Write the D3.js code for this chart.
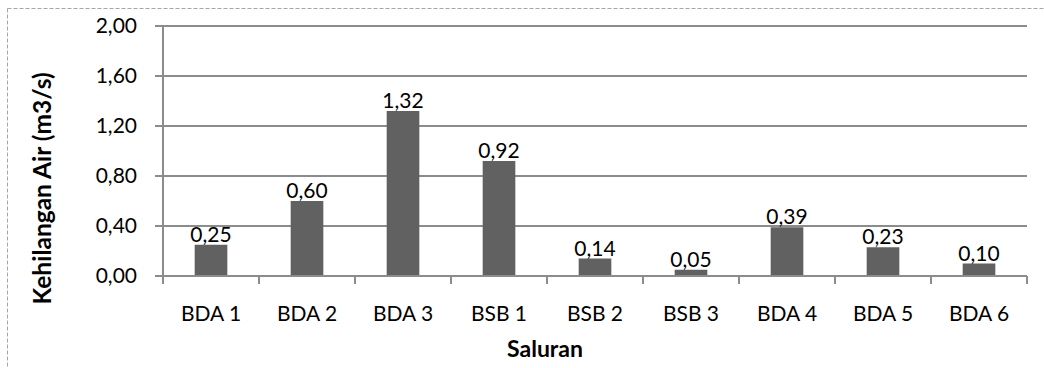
<!DOCTYPE html>
<html>
<head>
<meta charset="utf-8">
<script src="https://cdn.jsdelivr.net/npm/d3@7"></script>
<style>
  html, body { margin: 0; padding: 0; background: #fff; }
  svg { display: block; font-family: Lato, "Open Sans", sans-serif; }
</style>
</head>
<body>
<svg id="chart" width="1044" height="368"></svg>
<script>
// Water loss per channel
const categories = ["BDA 1", "BDA 2", "BDA 3", "BSB 1", "BSB 2", "BSB 3", "BDA 4", "BDA 5", "BDA 6"];
const values = [0.25, 0.60, 1.32, 0.92, 0.14, 0.05, 0.39, 0.23, 0.10];
const yTicks = [0, 0.4, 0.8, 1.2, 1.6, 2.0];
const yTitle = "Kehilangan Air (m3/s)";
const xTitle = "Saluran";

const svg = d3.select("#chart");
const plot = { left: 163, right: 1027, top: 26, bottom: 276 };

const fmt = v => v.toFixed(2).replace(".", ",");

// outer chart frame
svg.append("rect")
  .attr("x", 7.5).attr("y", 8.5)
  .attr("width", 1045).attr("height", 370)
  .attr("fill", "none")
  .attr("stroke", "#a6a6a6")
  .attr("stroke-width", 1)
  .attr("stroke-dasharray", "4 2");

const x = d3.scaleBand().domain(categories).range([plot.left, plot.right]).paddingInner(0.66).paddingOuter(0.33);
const xOuter = d3.scaleBand().domain(categories).range([plot.left, plot.right]);
const y = d3.scaleLinear().domain([0, 2]).range([plot.bottom, plot.top]);

const gridColor = "#8c8c8c";

// horizontal gridlines with outward ticks
svg.append("g")
  .selectAll("line")
  .data(yTicks)
  .join("line")
  .attr("x1", plot.left - 8).attr("x2", plot.right)
  .attr("y1", d => y(d)).attr("y2", d => y(d))
  .attr("stroke", gridColor).attr("stroke-width", 2);

// y axis line
svg.append("line")
  .attr("x1", plot.left).attr("x2", plot.left)
  .attr("y1", plot.top).attr("y2", plot.bottom)
  .attr("stroke", gridColor).attr("stroke-width", 2);

// y tick labels
svg.append("g")
  .selectAll("text")
  .data(yTicks)
  .join("text")
  .attr("x", 137).attr("y", d => y(d))
  .attr("dy", "0.35em")
  .attr("text-anchor", "end")
  .attr("font-size", 21)
  .attr("fill", "#000")
  .text(fmt);

// category boundary ticks on x axis
const bounds = categories.map(c => xOuter(c)).concat([plot.right]);
svg.append("g")
  .selectAll("line")
  .data(bounds)
  .join("line")
  .attr("x1", d => d).attr("x2", d => d)
  .attr("y1", plot.bottom).attr("y2", plot.bottom + 8)
  .attr("stroke", gridColor).attr("stroke-width", 2);

// bars
svg.append("g")
  .selectAll("rect")
  .data(values)
  .join("rect")
  .attr("x", (d, i) => x(categories[i]))
  .attr("width", x.bandwidth())
  .attr("y", d => y(d))
  .attr("height", d => y(0) - y(d))
  .attr("fill", "#616161");

// redraw baseline above bars
svg.append("line")
  .attr("x1", plot.left - 8).attr("x2", plot.right)
  .attr("y1", y(0)).attr("y2", y(0))
  .attr("stroke", gridColor).attr("stroke-width", 2);

// value labels
svg.append("g")
  .selectAll("text")
  .data(values)
  .join("text")
  .attr("x", (d, i) => x(categories[i]) + x.bandwidth() / 2)
  .attr("y", d => y(d) - 3)
  .attr("text-anchor", "middle")
  .attr("font-size", 21)
  .attr("fill", "#000")
  .text(fmt);

// category labels
svg.append("g")
  .selectAll("text")
  .data(categories)
  .join("text")
  .attr("x", d => xOuter(d) + xOuter.bandwidth() / 2)
  .attr("y", 321)
  .attr("text-anchor", "middle")
  .attr("font-size", 21)
  .attr("fill", "#000")
  .text(d => d);

// axis titles
svg.append("text")
  .attr("transform", "translate(51,188.5) rotate(-90)")
  .attr("text-anchor", "middle")
  .attr("font-size", 24.5)
  .attr("font-weight", "bold")
  .attr("fill", "#000")
  .text(yTitle);

svg.append("text")
  .attr("x", 545).attr("y", 357)
  .attr("text-anchor", "middle")
  .attr("font-size", 23)
  .attr("font-weight", "bold")
  .attr("fill", "#000")
  .text(xTitle);
</script>
</body>
</html>
